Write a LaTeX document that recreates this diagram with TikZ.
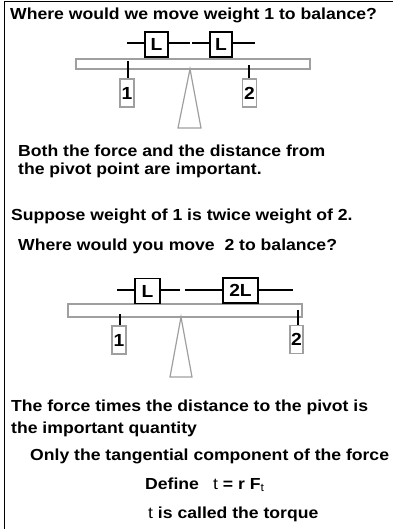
\documentclass[tikz,border=0pt]{standalone}
\usepackage{fontspec}
\setmainfont{Liberation Sans}[FakeStretch=1.1]
\usepackage{tikz}
\usetikzlibrary{positioning}

\begin{document}
\begin{tikzpicture}[x=1pt, y=-1pt,
  txt/.style={anchor=base west, inner sep=0, font=\fontsize{16}{19}\selectfont\bfseries},
  beam/.style={draw=gray!75, line width=1.3pt, inner sep=0, minimum width=234pt},
  lbox/.style={draw, line width=1.8pt, inner sep=0, minimum height=25pt, font=\fontsize{17.5}{20}\selectfont\bfseries},
  wbox/.style={draw=gray!75, line width=1.3pt, inner sep=0, minimum width=14pt, minimum height=28pt, font=\fontsize{17.5}{20}\selectfont\bfseries},
  rod/.style={line width=1.3pt},
  tick/.style={line width=1.6pt},
  pivot/.style={draw=gray!75, line width=1.2pt},
]
\useasboundingbox (0,0) rectangle (393,529);
\draw[line width=1.6pt] (4.5,529) -- (4.5,1.5) -- (393,1.5);

% first balance
\node[txt] (q1) at (10,20) {Where would we move weight 1 to balance?};
\node[beam, minimum height=10pt] (beamA) at (193,64) {};
\node[lbox, minimum width=23pt] (la) at (156.5,44.5) {L};
\node[lbox, minimum width=22pt] (lb) at (221,44.5) {L};
\coordinate (la0) at (127,43);
\coordinate (la1) at (190,43);
\coordinate (lb0) at (192,43);
\coordinate (lb1) at (255,43);
\draw[rod] (la0) -- (la0 -| la.west) (la0 -| la.east) -- (la1);
\draw[rod] (lb0) -- (lb0 -| lb.west) (lb0 -| lb.east) -- (lb1);
\node[wbox] (wa1) at (127,93) {1};
\node[wbox] (wa2) at (249.5,93) {2};
\coordinate (ta1) at (128,61);
\coordinate (ta2) at (249,65);
\draw[tick] (ta1) -- (ta1 |- wa1.north);
\draw[tick] (ta2) -- (ta2 |- wa2.north);
\coordinate (pa) at (190,69);
\draw[pivot] (pa) -- (178,128) -- (201,128) -- cycle;
\node[txt] (n1) at (18,157) {Both the force and the distance from};
\node[txt] (n2) at (18,175) {the pivot point are important.};

% second balance
\node[txt] (q2) at (11,220) {Suppose weight of 1 is twice weight of 2.};
\node[txt] (q3) at (18,250) {Where would you move\ \ 2 to balance?};
\node[beam, minimum height=13pt] (beamB) at (185,310.5) {};
\node[lbox, minimum width=25pt] (lc) at (147.5,291) {L};
\node[lbox, minimum width=35pt] (ld) at (240.5,290.5) {2L};
\coordinate (lc0) at (117,290);
\coordinate (lc1) at (180,290);
\coordinate (ld0) at (185,290);
\coordinate (ld1) at (293,290);
\draw[rod] (lc0) -- (lc0 -| lc.west) (lc0 -| lc.east) -- (lc1);
\draw[rod] (ld0) -- (ld0 -| ld.west) (ld0 -| ld.east) -- (ld1);
\node[wbox] (wb1) at (119,340) {1};
\node[wbox, minimum width=13pt] (wb2) at (296.5,339.5) {2};
\coordinate (tb1) at (120,314);
\coordinate (tb2) at (298,310);
\draw[tick] (tb1) -- (tb1 |- wb1.north);
\draw[tick] (tb2) -- (tb2 |- wb2.north);
\coordinate (pb) at (181,317);
\draw[pivot] (pb) -- (170,377) -- (192,377) -- cycle;

\node[txt] (n3) at (11,411) {The force times the distance to the pivot is};
\node[txt] (n4) at (11,433) {the important quantity};
\node[txt] (n5) at (30,460) {Only the tangential component of the force};
\node[txt] (def) at (145,489) {Define};
\node[txt] (tau) at (213,489) {{\mdseries t} = r F\textsubscript{\mdseries t}};
\node[txt] (n6) at (148,518) {{\mdseries t} is called the torque};
\end{tikzpicture}
\end{document}
